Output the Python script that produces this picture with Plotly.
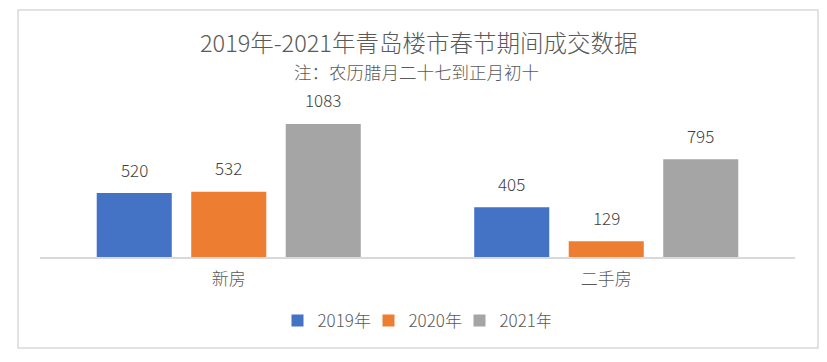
import plotly.graph_objects as go

categories = ["新房", "二手房"]
series_names = ["2019年", "2020年", "2021年"]
values_2019 = [520, 405]
values_2020 = [532, 129]
values_2021 = [1083, 795]
colors = ["#4472C4", "#ED7D31", "#A5A5A5"]

title_text = "2019年-2021年青岛楼市春节期间成交数据"
subtitle_text = "注：农历腊月二十七到正月初十"

FONT = "Noto Sans CJK SC"
OFF = 8  # page body margin
W, H = 827 - 2 * OFF, 362 - 2 * OFF
L = 40 - OFF
R = W - (795 - OFF)
B = H - (257 - OFF)
T = 85 - OFF
plot_w = W - L - R
plot_h = H - T - B

fig = go.Figure()
all_vals = [values_2019, values_2020, values_2021]
for name, vals, col in zip(series_names, all_vals, colors):
    fig.add_trace(go.Bar(
        name=name, x=categories, y=vals, marker_color=col,
        marker_line_width=0,
    ))

bargap = 0.249
groupgap = 0.206
cat_px = plot_w / len(categories)
slot_px = cat_px * (1 - bargap) / 3
annotations = []
for i, vals in enumerate(all_vals):
    for c, v in zip(categories, vals):
        annotations.append(dict(
            x=c, y=v, xref="x", yref="y", text=str(v), showarrow=False,
            xshift=(i - 1) * slot_px, yshift=24, yanchor="middle",
            font=dict(family=FONT, size=17, color="#404040", weight=300),
        ))


def px_x(p):
    return (p - OFF - L) / plot_w


def px_y(p):
    return (H - B - (p - OFF)) / plot_h


annotations.append(dict(
    x=px_x(418.5), xref="paper", y=px_y(42), yref="paper",
    text=title_text, showarrow=False, yanchor="middle", xanchor="center",
    font=dict(family=FONT, size=23.5, color="#595959", weight=300),
))
annotations.append(dict(
    x=px_x(416.5), xref="paper", y=px_y(71), yref="paper",
    text=subtitle_text, showarrow=False, yanchor="middle", xanchor="center",
    font=dict(family=FONT, size=17.5, color="#595959", weight=300),
))

fig.update_layout(
    width=W, height=H,
    margin=dict(l=L, r=R, t=T, b=B),
    paper_bgcolor="white", plot_bgcolor="white",
    barmode="group", bargap=bargap, bargroupgap=groupgap,
    font=dict(family=FONT, color="#595959"),
    showlegend=True,
    legend=dict(orientation="h", x=px_x(414), xanchor="center",
                y=px_y(321), yanchor="middle",
                font=dict(family=FONT, size=17, color="#595959", weight=300),
                itemwidth=30, traceorder="normal",
                entrywidth=46, entrywidthmode="pixels"),
    annotations=annotations,
    shapes=[dict(type="rect", xref="paper", yref="paper",
                 x0=px_x(18), x1=px_x(818), y0=px_y(348), y1=px_y(10),
                 line=dict(color="#D9D9D9", width=1.5), layer="below")],
)
fig.update_xaxes(showline=True, linecolor="#D9D9D9", linewidth=2,
                 showgrid=False, ticks="", ticklabelstandoff=6,
                 tickfont=dict(family=FONT, size=17, color="#595959", weight=300),
                 range=[-0.5, 1.5])
fig.update_yaxes(visible=False, range=[0, 1400], showgrid=False)

fig.write_html("out.html")
